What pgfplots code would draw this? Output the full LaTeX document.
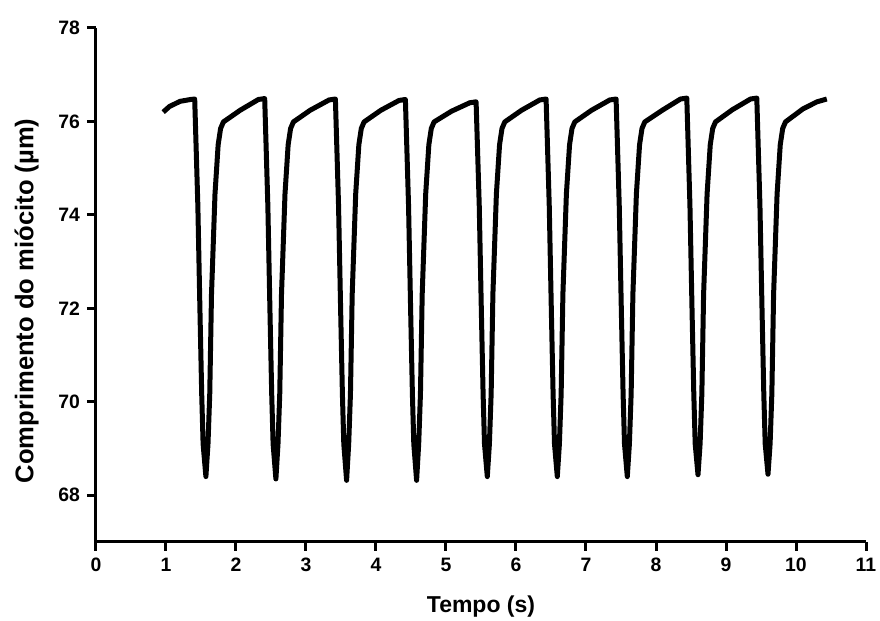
\documentclass[border=0pt]{standalone}
\usepackage{pgfplots}
\pgfplotsset{compat=1.18}
\usepackage{pgfplotstable}
\usepackage{fontspec}
\setmainfont{Liberation Sans}
\pgfplotstableread{
t y
0.96 76.20
1.05 76.32
1.20 76.43
1.35 76.47
1.41 76.48
1.455 74.2
1.485 71.95
1.51 70.17
1.53 69.1
1.57 68.40
1.60 69.1
1.625 70.17
1.65 72.3
1.70 74.45
1.745 75.5
1.78 75.85
1.82 75.99
2.06 76.24
2.32 76.47
2.41 76.49
2.455 74.2
2.485 71.95
2.51 70.17
2.53 69.1
2.57 68.35
2.60 69.1
2.625 70.17
2.65 72.3
2.70 74.45
2.745 75.5
2.78 75.85
2.82 75.99
3.06 76.24
3.33 76.46
3.42 76.48
3.465 74.2
3.495 71.95
3.52 70.17
3.54 69.1
3.58 68.32
3.61 69.1
3.635 70.17
3.66 72.3
3.71 74.45
3.755 75.5
3.79 75.85
3.83 75.99
4.07 76.24
4.33 76.45
4.42 76.47
4.465 74.2
4.495 71.95
4.52 70.17
4.54 69.1
4.58 68.32
4.61 69.1
4.635 70.17
4.66 72.3
4.71 74.45
4.755 75.5
4.79 75.85
4.83 75.99
5.08 76.22
5.34 76.40
5.43 76.42
5.475 74.2
5.505 71.95
5.53 70.17
5.55 69.1
5.59 68.40
5.62 69.1
5.645 70.17
5.67 72.3
5.72 74.45
5.765 75.5
5.80 75.85
5.84 75.99
6.08 76.24
6.34 76.46
6.43 76.48
6.475 74.2
6.505 71.95
6.53 70.17
6.55 69.1
6.59 68.40
6.62 69.1
6.645 70.17
6.67 72.3
6.72 74.45
6.765 75.5
6.80 75.85
6.84 75.99
7.08 76.24
7.34 76.46
7.43 76.48
7.475 74.2
7.505 71.95
7.53 70.17
7.55 69.1
7.59 68.40
7.62 69.1
7.645 70.17
7.67 72.3
7.72 74.45
7.765 75.5
7.80 75.85
7.84 75.99
8.09 76.24
8.35 76.48
8.44 76.50
8.485 74.2
8.515 71.95
8.54 70.17
8.56 69.1
8.60 68.44
8.63 69.1
8.655 70.17
8.68 72.3
8.73 74.45
8.775 75.5
8.81 75.85
8.85 75.99
9.09 76.25
9.35 76.48
9.44 76.50
9.485 74.2
9.515 71.95
9.54 70.17
9.56 69.1
9.60 68.45
9.63 69.1
9.655 70.17
9.68 72.3
9.73 74.45
9.775 75.5
9.81 75.85
9.85 75.99
10.10 76.27
10.30 76.42
10.44 76.48
}\trace
\begin{document}
\begin{tikzpicture}[x=1pt,y=1pt]
\begin{axis}[
  at={(0,0)}, anchor=south west,
  width=385pt, height=257pt, scale only axis,
  xmin=0, xmax=11, ymin=67, ymax=78,
  axis x line*=bottom, axis y line*=left,
  xtick={0,1,...,11}, ytick={68,70,...,78},
  tick align=outside, major tick length=4.5pt,
  every tick/.style={black, line width=1.5pt},
  axis line style={line width=1.5pt},
  /pgf/number format/assume math mode=true,
  tick label style={font=\bfseries\fontsize{9.7}{11}\selectfont},
  xlabel={Tempo (s)},
  ylabel={Comprimento do miócito (µm)},
  xlabel style={font=\bfseries\fontsize{11.5}{13}\selectfont},
  ylabel style={font=\bfseries\fontsize{12.8}{14}\selectfont, at={(ticklabel cs:0.469)}},
  xlabel shift=5pt,
  ylabel shift=3pt,
  clip=false,
]
\addplot[black, line width=2.5pt, line join=round, mark=none] table[x=t, y=y] {\trace};
\end{axis}
\pgfresetboundingbox
\path (-48,-39.5) rectangle (392,271);
\end{tikzpicture}
\end{document}
